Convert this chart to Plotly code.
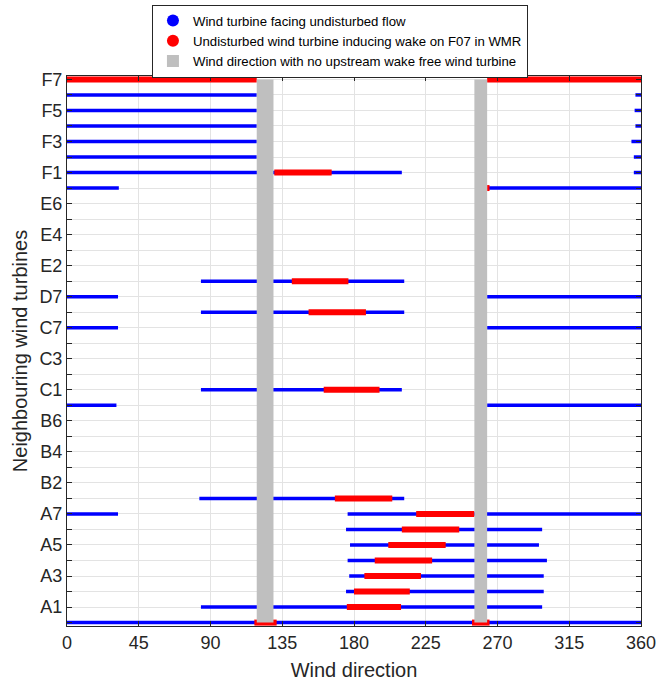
import plotly.graph_objects as go

# Neighbouring turbine rows, listed bottom to top
turbines = ["A0", "A1", "A2", "A3", "A4", "A5", "A6", "A7",
            "B1", "B2", "B3", "B4", "B5", "B6", "B7",
            "C1", "C2", "C3", "C5", "C7", "D1", "D7",
            "E1", "E2", "E3", "E4", "E5", "E6", "E7",
            "F1", "F2", "F3", "F4", "F5", "F6", "F7"]

# Sectors (deg) where the turbine faces undisturbed flow
free_turbine = ["A0", "A1", "A2", "A3", "A4", "A5", "A6", "A7", "A7",
                "B1", "B7", "B7", "C1", "C7", "C7", "D1", "D7", "D7",
                "E1", "E7", "E7", "F1", "F1", "F2", "F2", "F3", "F3",
                "F4", "F4", "F5", "F5", "F6", "F6"]
free_start = [0, 84, 175, 177, 176, 177.5, 175, 0, 176,
              83, 0, 263.5, 84, 0, 263.5, 84, 0, 263.5,
              84, 0, 264.5, 0, 355.5, 0, 355.5, 0, 354,
              0, 356.5, 0, 356, 0, 356.5]
free_end = [360, 298, 299, 299, 301, 296, 298, 32, 360,
            211.5, 31, 360, 210, 32, 360, 211.5, 32, 360,
            211.5, 32.5, 360, 210, 360, 119, 360, 119, 360,
            119, 360, 119, 360, 119, 360]

# Sectors (deg) where the undisturbed turbine induces wake on F07
wake_turbine = ["A0", "A0", "A1", "A2", "A3", "A4", "A5", "A6", "A7",
                "B1", "C1", "D1", "E1", "E7", "F1", "F7", "F7"]
wake_start = [117.5, 254, 175.5, 180, 186.5, 193, 201.5, 210, 219,
              168, 161, 151.5, 141, 263.5, 130, 0, 263.5]
wake_end = [131.5, 265, 209.5, 215, 222, 229, 237.5, 246, 255.5,
            204, 196, 187.5, 176.5, 265, 166, 119, 360]

# Wind sectors with no upstream wake-free turbine
blocked_start = [119, 255.5]
blocked_end = [129.5, 263.5]

x_ticks = [0, 45, 90, 135, 180, 225, 270, 315, 360]
row_of = {name: i for i, name in enumerate(turbines)}
label_rows = list(range(1, len(turbines), 2))
label_text = [turbines[i] for i in label_rows]


def segments(names, starts, ends):
    xs, ys = [], []
    for n, s, e in zip(names, starts, ends):
        r = row_of[n]
        xs += [s, e, None]
        ys += [r, r, None]
    return xs, ys


BLUE = "#0000ff"
RED = "#ff0000"
GRAY = "#bfbfbf"
AXIS = "#262626"
GRID = "#e3e3e3"

fig = go.Figure()

bx, by = segments(free_turbine, free_start, free_end)
fig.add_trace(go.Scatter(x=bx, y=by, mode="lines",
                         line=dict(color=BLUE, width=3.5),
                         showlegend=False, hoverinfo="skip"))

rx, ry = segments(wake_turbine, wake_start, wake_end)
fig.add_trace(go.Scatter(x=rx, y=ry, mode="lines",
                         line=dict(color=RED, width=6),
                         showlegend=False, hoverinfo="skip"))

# legend entries
fig.add_trace(go.Scatter(x=[None], y=[None], mode="markers",
                         marker=dict(color=BLUE, size=9, symbol="circle"),
                         name="Wind turbine facing undisturbed flow"))
fig.add_trace(go.Scatter(x=[None], y=[None], mode="markers",
                         marker=dict(color=RED, size=9, symbol="circle"),
                         name="Undisturbed wind turbine inducing wake on F07 in WMR"))
fig.add_trace(go.Scatter(x=[None], y=[None], mode="markers",
                         marker=dict(color=GRAY, size=8, symbol="square"),
                         name="Wind direction with no upstream wake free wind turbine"))

for s, e in zip(blocked_start, blocked_end):
    fig.add_shape(type="rect", xref="x", yref="y", x0=s, x1=e,
                  y0=0, y1=len(turbines) - 1,
                  fillcolor=GRAY, line=dict(width=0), layer="above")

fig.update_layout(
    width=657, height=681,
    margin=dict(l=67, r=16, t=76, b=55, autoexpand=False),
    paper_bgcolor="white", plot_bgcolor="white",
    font=dict(family="Liberation Sans, Arial, sans-serif", color=AXIS),
    legend=dict(x=0.148, y=1.13, xanchor="left", yanchor="top",
                bgcolor="white", bordercolor=AXIS, borderwidth=1,
                font=dict(size=13.2, color="black"),
                itemwidth=30, tracegroupgap=0, itemsizing="constant"),
)

fig.update_xaxes(
    range=[0, 360], tickvals=x_ticks,
    ticks="inside", ticklen=5, tickcolor=AXIS,
    showline=True, linecolor=AXIS, linewidth=1, mirror="ticks",
    showgrid=True, gridcolor=GRID, gridwidth=1, zeroline=False,
    tickfont=dict(size=18, color=AXIS),
    title=dict(text="Wind direction", font=dict(size=20, color=AXIS), standoff=11),
)

fig.update_yaxes(
    range=[-0.22, len(turbines) - 1 + 0.22],
    tickvals=label_rows, ticktext=label_text,
    ticks="inside", ticklen=5, tickcolor=AXIS,
    minor=dict(dtick=1, tick0=0, ticks="inside", ticklen=5, tickcolor=AXIS,
               showgrid=True, gridcolor=GRID, gridwidth=1),
    showline=True, linecolor=AXIS, linewidth=1, mirror="ticks",
    showgrid=True, gridcolor=GRID, gridwidth=1, zeroline=False,
    tickfont=dict(size=18, color=AXIS),
    title=dict(text="Neighbouring wind turbines", font=dict(size=20, color=AXIS), standoff=6),
)

fig.write_html("out.html")
